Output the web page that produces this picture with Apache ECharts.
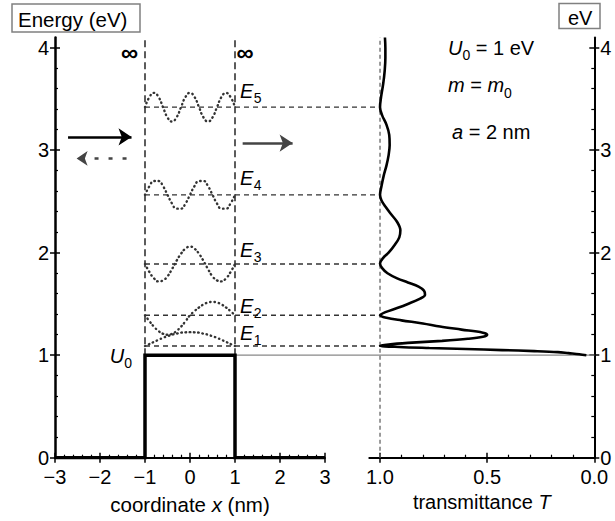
<!DOCTYPE html>
<html><head><meta charset="utf-8">
<script src="https://cdn.jsdelivr.net/npm/echarts@6/dist/echarts.min.js"></script>
<style>html,body{margin:0;padding:0;background:#fff}#c{width:615px;height:521px}</style>
</head><body><div id="c"></div>
<script>
// ---------- data ----------
const xTickVals = [-3, -2, -1, 0, 1, 2, 3];          // coordinate x (nm)
const eTickVals = [0, 1, 2, 3, 4];                    // energy (eV)
const tTickVals = [0, 0.5, 1.0];                      // transmittance
const xRange = [-3, 3];
const eRange = [0, 4.1];
const tRange = [0, 1.05];

const U0 = 1;
const wellEdges = [-1, 1];
const potX = [-3, -1, -1, 1, 1, 3];
const potU = [0, 0, 1, 1, 0, 0];

const levels = [1.09, 1.39, 1.89, 2.565, 3.42];       // E1..E5
const levelNames = ['1', '2', '3', '4', '5'];
const levelLabelE = [1.148, 1.412, 1.958, 2.66, 3.51];

const waveX = [-1, -0.9, -0.8, -0.7, -0.6, -0.5, -0.4, -0.3, -0.2, -0.1, 0, 0.1, 0.2, 0.3, 0.4, 0.5, 0.6, 0.7, 0.8, 0.9, 1];
const wave1 = [1.09, 1.11, 1.13, 1.15, 1.17, 1.185, 1.20, 1.21, 1.22, 1.223, 1.225, 1.223, 1.22, 1.21, 1.20, 1.185, 1.17, 1.15, 1.13, 1.11, 1.09];
const wave2 = [1.39, 1.331, 1.278, 1.236, 1.209, 1.20, 1.209, 1.236, 1.278, 1.331, 1.39, 1.43, 1.466, 1.495, 1.514, 1.52, 1.514, 1.495, 1.466, 1.43, 1.39];
const wave3 = [1.89, 1.81, 1.75, 1.72, 1.73, 1.77, 1.84, 1.92, 1.99, 2.04, 2.06, 2.04, 1.99, 1.92, 1.84, 1.77, 1.73, 1.72, 1.75, 1.81, 1.89];
const wave4 = [2.565, 2.65, 2.70, 2.70, 2.65, 2.565, 2.48, 2.43, 2.43, 2.48, 2.565, 2.65, 2.70, 2.70, 2.65, 2.565, 2.48, 2.43, 2.43, 2.48, 2.565];
const wave5 = [3.42, 3.52, 3.56, 3.52, 3.42, 3.32, 3.28, 3.32, 3.42, 3.52, 3.56, 3.52, 3.42, 3.32, 3.28, 3.32, 3.42, 3.52, 3.56, 3.52, 3.42];

const transE = [1.000, 1.010, 1.020, 1.030, 1.040, 1.050, 1.060, 1.070, 1.080, 1.093, 1.105, 1.120, 1.140, 1.160, 1.180, 1.200, 1.220, 1.250, 1.280, 1.310, 1.340, 1.365, 1.390, 1.420, 1.460, 1.500, 1.550, 1.590, 1.630, 1.670, 1.710, 1.750, 1.800, 1.850, 1.895, 1.950, 2.000, 2.080, 2.150, 2.220, 2.300, 2.380, 2.450, 2.510, 2.565, 2.650, 2.750, 2.850, 2.950, 3.050, 3.150, 3.250, 3.340, 3.420, 3.520, 3.650, 3.780, 3.900, 4.000, 4.100];
const transT = [0.037, 0.07, 0.12, 0.17, 0.28, 0.43, 0.60, 0.77, 0.91, 1.00, 0.96, 0.87, 0.71, 0.59, 0.52, 0.50, 0.52, 0.62, 0.72, 0.80, 0.90, 0.97, 1.00, 0.975, 0.92, 0.87, 0.815, 0.79, 0.795, 0.82, 0.87, 0.92, 0.965, 0.99, 1.00, 0.985, 0.96, 0.93, 0.91, 0.905, 0.92, 0.95, 0.975, 0.993, 1.00, 0.993, 0.983, 0.97, 0.96, 0.955, 0.957, 0.97, 0.99, 1.00, 0.995, 0.985, 0.978, 0.975, 0.975, 0.977];

const arrowIn = [[-2.71, 3.13], [-1.30, 3.13]];
const arrowRefl = [[-1.41, 2.92], [-2.52, 2.92]];
const arrowOut = [[1.17, 3.07], [2.28, 3.07]];

// ---------- helpers ----------
const FONT = '"Liberation Sans", Arial, Helvetica, sans-serif';
const xMinor = [], eMinor = [], tMinor = [];
for (let i = -15; i <= 15; i++) if (i % 5) xMinor.push(i / 5);
for (let i = 1; i < 20; i++) if (i % 5) eMinor.push(i / 5);
for (let i = 1; i < 10; i++) if (i % 5) tMinor.push(i / 10);

function axisTriple(base, majors, minors, labelCfg, lineW) {
  const common = Object.assign({type: 'value', splitLine: {show: false}}, base);
  return [
    Object.assign({}, common, {
      axisLine: {show: true, onZero: false, lineStyle: {color: '#000', width: lineW}},
      axisTick: {show: true, inside: false, length: 5, customValues: majors, lineStyle: {color: '#000', width: 1.5}},
      axisLabel: Object.assign({show: true, customValues: majors, color: '#000', fontFamily: FONT}, labelCfg)
    }),
    Object.assign({}, common, {
      name: '',
      axisLine: {show: false, onZero: false},
      axisTick: {show: true, inside: true, length: 5, customValues: majors, lineStyle: {color: '#000', width: 1.5}},
      axisLabel: {show: false}
    }),
    Object.assign({}, common, {
      name: '',
      axisLine: {show: false, onZero: false},
      axisTick: {show: true, inside: true, length: 3, customValues: minors, lineStyle: {color: '#000', width: 1.2}},
      axisLabel: {show: false}
    })
  ];
}

const minusFmt = v => (v < 0 ? '\u2212' + (-v) : String(v));

const xAxes = [].concat(
  axisTriple({gridIndex: 0, position: 'bottom', min: xRange[0], max: xRange[1],
    name: '{n|coordinate }{i|x}{n| (nm)}', nameLocation: 'middle', nameGap: 36,
    nameTextStyle: {rich: {n: {fontSize: 20.5, fontFamily: FONT, color: '#000'}, i: {fontSize: 20.5, fontFamily: FONT, fontStyle: 'italic', color: '#000'}}}},
    xTickVals, xMinor, {fontSize: 20, margin: 10, lineHeight: 18, formatter: minusFmt}, 2),
  axisTriple({gridIndex: 1, position: 'bottom', inverse: true, min: tRange[0], max: tRange[1],
    name: '{n|transmittance }{i|T}', nameLocation: 'middle', nameGap: 34,
    nameTextStyle: {rich: {n: {fontSize: 20, fontFamily: FONT, color: '#000'}, i: {fontSize: 20, fontFamily: FONT, fontStyle: 'italic', color: '#000'}}}},
    tTickVals, tMinor, {fontSize: 20, margin: 10, lineHeight: 18, formatter: v => v.toFixed(1)}, 2)
);
const yAxes = [].concat(
  axisTriple({gridIndex: 0, position: 'left', min: eRange[0], max: eRange[1]},
    eTickVals, eMinor, {fontSize: 20, margin: 6, lineHeight: 12, padding: [0, 0, 2, 0]}, 2.5),
  axisTriple({gridIndex: 1, position: 'right', min: eRange[0], max: eRange[1]},
    eTickVals, eMinor, {fontSize: 20, margin: 6, lineHeight: 12, padding: [0, 0, 2, 0]}, 2)
);

const series = [];
// potential barrier
series.push({type: 'line', xAxisIndex: 0, yAxisIndex: 0, data: potX.map((x, i) => [x, potU[i]]),
  symbol: 'none', lineStyle: {color: '#000', width: 3.5, join: 'miter'}, z: 6});
// infinite walls (dashed verticals)
wellEdges.forEach(x => series.push({type: 'line', xAxisIndex: 0, yAxisIndex: 0,
  data: [[x, U0], [x, eRange[1]]], symbol: 'none',
  lineStyle: {color: '#333', width: 1.6, type: [7, 4]}, z: 3}));
// wave functions (dotted)
[wave1, wave2, wave3, wave4, wave5].forEach(w => series.push({type: 'line', xAxisIndex: 0, yAxisIndex: 0,
  data: waveX.map((x, i) => [x, w[i]]), symbol: 'none', smooth: 0.5,
  lineStyle: {color: '#333', width: 2.4, type: [0.5, 3.8], cap: 'round'}, z: 4}));
// arrows
series.push({type: 'lines', coordinateSystem: 'cartesian2d', xAxisIndex: 0, yAxisIndex: 0,
  symbol: ['none', 'arrow'], symbolSize: [11, 13], z: 5,
  data: [{coords: arrowIn, lineStyle: {color: '#000', width: 2.6, opacity: 1}},
         {coords: arrowOut, lineStyle: {color: '#444', width: 2.6, opacity: 1}}],
  lineStyle: {opacity: 1, curveness: 0}});
series.push({type: 'lines', coordinateSystem: 'cartesian2d', xAxisIndex: 0, yAxisIndex: 0,
  symbol: ['none', 'arrow'], symbolSize: [10, 11], z: 5,
  data: [{coords: arrowRefl}],
  lineStyle: {color: '#444', width: 2.6, opacity: 1, curveness: 0, type: [4, 10]}});
// transmittance panel
series.push({type: 'line', xAxisIndex: 3, yAxisIndex: 3, data: [[1, eRange[0]], [1, eRange[1]]],
  symbol: 'none', lineStyle: {color: '#666', width: 1.3, type: [4, 3]}, z: 3});
series.push({type: 'line', xAxisIndex: 3, yAxisIndex: 3, data: transT.map((t, i) => [t, transE[i]]),
  symbol: 'none', smooth: 0.35, lineStyle: {color: '#000', width: 2.6}, z: 6});

const chart = echarts.init(document.getElementById('c'), null, {renderer: 'svg', width: 615, height: 521});
chart.setOption({
  animation: false,
  backgroundColor: '#fff',
  grid: [
    {left: 55, top: 37.5, width: 270, height: 420.2, outerBoundsMode: 'none', containLabel: false},
    {left: 369.3, top: 37.5, width: 225, height: 420.2, outerBoundsMode: 'none', containLabel: false}
  ],
  xAxis: xAxes,
  yAxis: yAxes,
  series: series
});

// ---------- annotations positioned through the axes ----------
const P0 = (x, y) => chart.convertToPixel({xAxisIndex: 0, yAxisIndex: 0}, [x, y]);
const P1 = (x, y) => chart.convertToPixel({xAxisIndex: 3, yAxisIndex: 3}, [x, y]);
const g = [];
levels.forEach(E => {
  const a = P0(wellEdges[0], E), b = P1(1.0, E);
  g.push({type: 'line', shape: {x1: a[0], y1: a[1], x2: b[0], y2: b[1]},
    style: {stroke: '#333', lineWidth: 1.3, lineDash: [5, 4]}, z: 2});
});
{
  const a = P0(wellEdges[1], U0), b = P1(0, U0);
  g.push({type: 'line', shape: {x1: a[0], y1: a[1], x2: b[0], y2: b[1]}, style: {stroke: '#888', lineWidth: 1.2}, z: 2});
}

// text made of pieces (italic symbols, lowered subscripts), placed by baseline
const mctx = document.createElement('canvas').getContext('2d');
function fontStr(p) { return (p.it ? 'italic ' : '') + p.size + 'px ' + FONT; }
function measure(p) { mctx.font = fontStr(p); return mctx.measureText(p.t).width; }
function pieces(list, x, baseline, align) {
  const widths = list.map(measure);
  const total = widths.reduce((a, b) => a + b, 0);
  let cx = align === 'right' ? x - total : x;
  list.forEach((p, i) => {
    const b = baseline + (p.sub || 0);
    g.push({type: 'text', x: cx + (p.dx || 0), y: b - 0.35 * p.size, z: 10,
      style: {text: p.t, fontSize: p.size, fontStyle: p.it ? 'italic' : 'normal', fontFamily: FONT,
        fill: '#000', align: 'left', verticalAlign: 'middle'}});
    cx += widths[i];
  });
}
levels.forEach((E, i) => {
  const p = P0(wellEdges[1], levelLabelE[i]);
  pieces([{t: 'E', it: true, size: 20}, {t: levelNames[i], size: 14, sub: 4.5, dx: 0.5}], p[0] + 5, p[1]);
});
{
  const p = P0(wellEdges[0], U0);
  pieces([{t: 'U', it: true, size: 20}, {t: '0', size: 14, sub: 5}], p[0] - 13, p[1] + 8, 'right');
  const q = P0(wellEdges[0], 3.95), r = P0(wellEdges[1], 3.95);
  g.push({type: 'text', x: q[0] - 7, y: q[1], z: 10, style: {text: '\u221E', fontSize: 24, fontWeight: 'bold', fontFamily: FONT, fill: '#000', align: 'right', verticalAlign: 'middle'}});
  g.push({type: 'text', x: r[0] + 1.5, y: r[1], z: 10, style: {text: '\u221E', fontSize: 24, fontWeight: 'bold', fontFamily: FONT, fill: '#000', align: 'left', verticalAlign: 'middle'}});
}
// parameter annotations
pieces([{t: 'U', it: true, size: 20}, {t: '0', size: 14, sub: 5}, {t: ' = 1 eV', size: 20}], 448, 55);
pieces([{t: 'm', it: true, size: 20}, {t: ' = ', size: 20}, {t: 'm', it: true, size: 20}, {t: '0', size: 14, sub: 6}], 448, 92);
pieces([{t: 'a', it: true, size: 20}, {t: ' = 2 nm', size: 20}], 452, 138.5);
// boxed unit labels
g.push({type: 'rect', shape: {x: 12, y: 4, width: 128, height: 28}, style: {fill: 'none', stroke: '#808080', lineWidth: 1.5}, z: 10});
g.push({type: 'text', x: 18, y: 19.5, z: 10, style: {text: 'Energy (eV)', fontSize: 20.5, fontFamily: FONT, fill: '#000', align: 'left', verticalAlign: 'middle'}});
g.push({type: 'rect', shape: {x: 559, y: 3.5, width: 41, height: 25}, style: {fill: 'none', stroke: '#808080', lineWidth: 1.5}, z: 10});
g.push({type: 'text', x: 568, y: 17.5, z: 10, style: {text: 'eV', fontSize: 20, fontFamily: FONT, fill: '#000', align: 'left', verticalAlign: 'middle'}});

chart.setOption({graphic: {elements: g}});
</script></body></html>
